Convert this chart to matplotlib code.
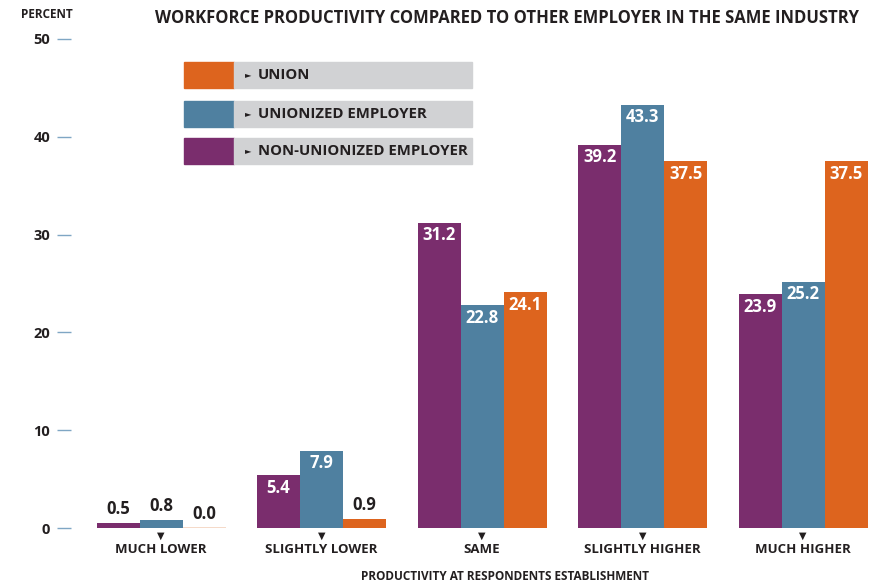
"""
Workforce productivity compared to other employer in the same industry
Grouped bars, three series, custom legend blocks
"""
import matplotlib
matplotlib.use('Agg')
import matplotlib.pyplot as plt
from matplotlib.patches import Rectangle
import numpy as np

plt.rcParams['font.family'] = ['Open Sans', 'DejaVu Sans']

PURPLE = '#7A2D6D'
BLUE   = '#4F80A0'
ORANGE = '#DD641E'
GRAY   = '#D1D2D4'
TEXT   = '#231F20'
TICK   = '#7FA6C4'

categories = ['MUCH LOWER', 'SLIGHTLY LOWER', 'SAME', 'SLIGHTLY HIGHER', 'MUCH HIGHER']
non_union  = [0.5, 5.4, 31.2, 39.2, 23.9]
unionized  = [0.8, 7.9, 22.8, 43.3, 25.2]
union      = [0.0, 0.9, 24.1, 37.5, 37.5]
series_names = ['NON-UNIONIZED EMPLOYER', 'UNIONIZED EMPLOYER', 'UNION']
yticks = [0, 10, 20, 30, 40, 50]

W, H = 882, 581
fig = plt.figure(figsize=(W / 100, H / 100), dpi=100)
fig.patch.set_facecolor('white')

def fx(px):
    return px / W

def fy(py):
    return 1 - py / H

ax = fig.add_axes([fx(71), fy(528), fx(870) - fx(71), fy(39) - fy(528)])
x = np.arange(len(categories))
bw = 0.268

for i, (vals, col) in enumerate(zip([non_union, unionized, union],
                                    [PURPLE, BLUE, ORANGE])):
    xs = x + (i - 1) * bw
    ax.bar(xs, vals, width=bw, color=col, linewidth=0, zorder=3)
    for xi, v in zip(xs, vals):
        if v == 0:
            ax.hlines(v, xi - bw / 2, xi + bw / 2, color='#F3D3BF',
                      linewidth=1.2, zorder=3)
        if v < 3:
            ax.text(xi, v + 0.5, f'{v:.1f}', ha='center', va='bottom',
                    fontsize=12, fontweight='bold', color=TEXT)
        else:
            ax.annotate(f'{v:.1f}', (xi, v), xytext=(0, -12.5),
                        textcoords='offset pixels', ha='center', va='center',
                        fontsize=12, fontweight='bold', color='white')

ax.set_xlim(-0.561, 4.417)
ax.set_ylim(0, 50)
for s in ax.spines.values():
    s.set_visible(False)

ax.set_yticks(yticks)
ax.set_yticklabels([str(t) for t in yticks], fontsize=10.5, fontweight='bold',
                   color=TEXT)
ax.tick_params(axis='y', length=10, width=1, color=TICK, pad=5)
for t in ax.yaxis.get_major_ticks():
    t.tick1line.set_clip_on(False)

ax.set_xticks(x)
ax.set_xticklabels(categories, fontsize=9.5, fontweight='bold', color=TEXT)
ax.tick_params(axis='x', length=0, pad=11)
for xi in x:
    ax.annotate('▼', (xi, 0), xytext=(0, -8), textcoords='offset pixels',
                ha='center', va='center', fontsize=7, color=TEXT,
                annotation_clip=False)

fig.text(fx(505), fy(576), 'PRODUCTIVITY AT RESPONDENTS ESTABLISHMENT',
         ha='center', va='center', fontsize=8.5, fontweight='bold', color=TEXT)
fig.text(fx(47), fy(15), 'PERCENT', ha='center', va='center', fontsize=8.5,
         fontweight='bold', color=TEXT)
fig.text(fx(507), fy(18),
         'WORKFORCE PRODUCTIVITY COMPARED TO OTHER EMPLOYER IN THE SAME INDUSTRY',
         ha='center', va='center', fontsize=12, fontweight='bold', color=TEXT)

# legend blocks
legend_rows = [(62, ORANGE, series_names[2]),
               (101, BLUE, series_names[1]),
               (138, PURPLE, series_names[0])]
for top, col, label in legend_rows:
    h = 26
    fig.patches.append(Rectangle((fx(184), fy(top + h)), fx(50), h / H,
                                 transform=fig.transFigure, color=col))
    fig.patches.append(Rectangle((fx(234), fy(top + h)), fx(238), h / H,
                                 transform=fig.transFigure, color=GRAY))
    fig.text(fx(245), fy(top + h / 2), '►', ha='left', va='center',
             fontsize=6, color=TEXT, family='DejaVu Sans')
    fig.text(fx(258), fy(top + h / 2), label, ha='left', va='center',
             fontsize=10.7, fontweight='bold', color=TEXT)

plt.savefig('out.png', dpi=100, facecolor='white')
plt.close()
